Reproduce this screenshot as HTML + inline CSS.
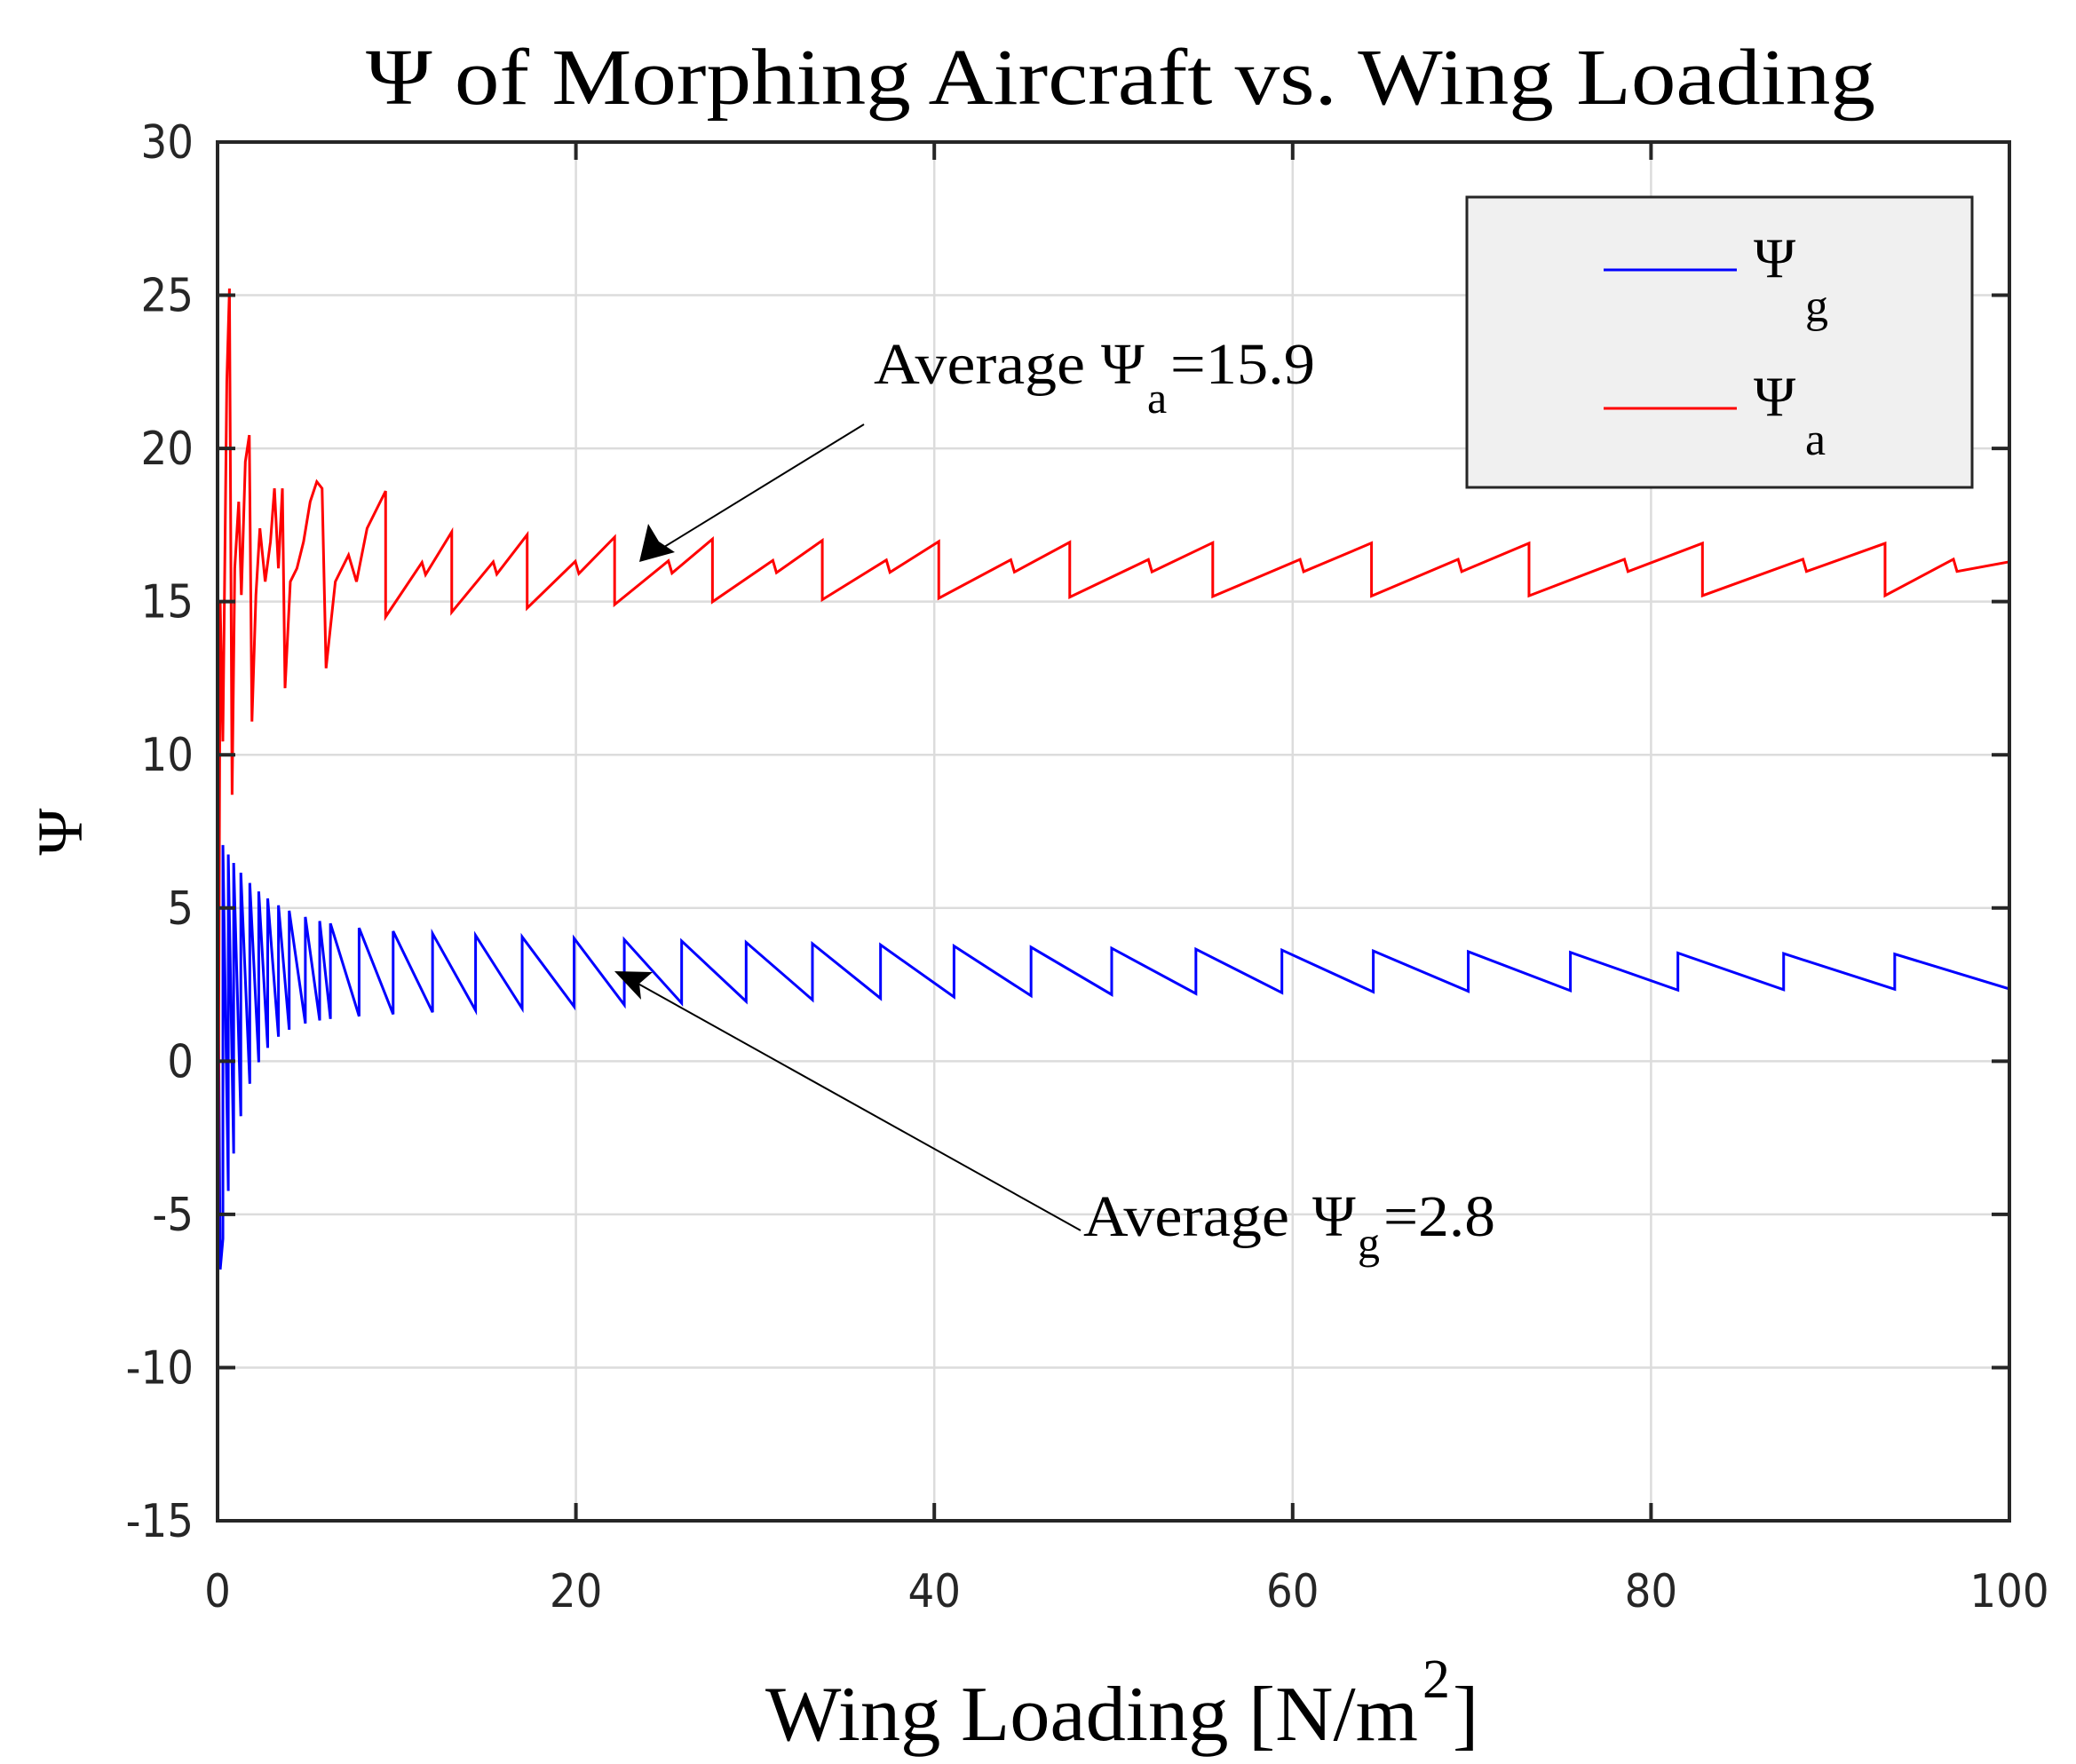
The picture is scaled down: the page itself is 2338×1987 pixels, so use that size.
<!DOCTYPE html>
<html><head><meta charset="utf-8"><style>
html,body{margin:0;padding:0;background:#fff;}
svg{display:block;}
</style></head><body>
<svg id="s" width="2338" height="1987" viewBox="0 0 2338 1987" xmlns="http://www.w3.org/2000/svg">
<rect width="2338" height="1987" fill="#fff"/>
<g id="grid" stroke="#dcdcdc" stroke-width="2.5"></g>
<g id="series" fill="none" stroke-width="3" stroke-linejoin="miter"></g>
<rect x="245" y="160" width="2018" height="1553" fill="none" stroke="#262626" stroke-width="4"/>
<g id="ticks" stroke="#262626" stroke-width="4"></g>
<g id="labels" font-family="'DejaVu Sans Condensed','DejaVu Sans','Liberation Sans',sans-serif" font-size="52" fill="#262626"></g>
<text x="1262" y="117" text-anchor="middle" font-family="'Liberation Serif',serif" font-size="90" fill="#000" textLength="1700" lengthAdjust="spacingAndGlyphs">Ψ of Morphing Aircraft vs. Wing Loading</text>
<text x="862" y="1960" font-family="'Liberation Serif',serif" font-size="88" fill="#000" textLength="735" lengthAdjust="spacingAndGlyphs">Wing Loading [N/m</text><text x="1602" y="1912" font-family="'Liberation Serif',serif" font-size="62" fill="#000">2</text><text x="1636" y="1960" font-family="'Liberation Serif',serif" font-size="88" fill="#000">]</text>
<text transform="translate(92,937) rotate(-90)" text-anchor="middle" font-family="'Liberation Serif',serif" font-size="72" fill="#000">Ψ</text>
<!-- legend -->
<rect x="1652" y="222" width="569" height="327" fill="#f0f0f0" stroke="#262626" stroke-width="3"/>
<line x1="1806" y1="304" x2="1956" y2="304" stroke="#0000ff" stroke-width="3"/>
<line x1="1806" y1="460" x2="1956" y2="460" stroke="#ff0000" stroke-width="3"/>
<g font-family="'Liberation Serif',serif" fill="#000">
<text x="1975" y="312" font-size="64">Ψ</text><text x="2033" y="362" font-size="52">g</text>
<text x="1975" y="468" font-size="64">Ψ</text><text x="2033" y="512" font-size="52">a</text>
</g>
<!-- annotations -->
<g font-family="'Liberation Serif',serif" fill="#000" font-size="66">
<text x="984" y="432" textLength="238" lengthAdjust="spacingAndGlyphs">Average</text>
<text x="1240" y="432">Ψ</text>
<text x="1292" y="465" font-size="50">a</text>
<text x="1318" y="432" textLength="163" lengthAdjust="spacingAndGlyphs">=15.9</text>
<text x="1220" y="1392" textLength="232" lengthAdjust="spacingAndGlyphs">Average</text>
<text x="1478" y="1392">Ψ</text>
<text x="1529" y="1417" font-size="50">g</text>
<text x="1558" y="1392" textLength="126" lengthAdjust="spacingAndGlyphs">=2.8</text>
</g>
<line x1="973" y1="478" x2="740" y2="621" stroke="#000" stroke-width="2"/>
<polygon points="720,633 730,590 742,610 760,622" fill="#000"/>
<line x1="1217" y1="1386" x2="715" y2="1106" stroke="#000" stroke-width="2"/>
<polygon points="692,1094 735,1095 720,1108 722,1126" fill="#000"/>
</svg>
<script>
var NS="http://www.w3.org/2000/svg";
function X(v){return 245+v*20.18;}
function Y(v){return 160+(30-v)*34.511;}
function el(p,t,a,txt){var e=document.createElementNS(NS,t);for(var k in a)e.setAttribute(k,a[k]);if(txt!==undefined)e.textContent=txt;document.getElementById(p).appendChild(e);}
for(var i=20;i<100;i+=20)el("grid","line",{x1:X(i),y1:160,x2:X(i),y2:1713});
for(var v=-10;v<30;v+=5)el("grid","line",{x1:245,y1:Y(v),x2:2263,y2:Y(v)});
for(var i=0;i<=100;i+=20){el("ticks","line",{x1:X(i),y1:1713,x2:X(i),y2:1693});el("ticks","line",{x1:X(i),y1:160,x2:X(i),y2:180});
 el("labels","text",{x:X(i),y:1810,"text-anchor":"middle"},String(i));}
for(var v=-15;v<=30;v+=5){el("ticks","line",{x1:245,y1:Y(v),x2:265,y2:Y(v)});el("ticks","line",{x1:2263,y1:Y(v),x2:2243,y2:Y(v)});
 el("labels","text",{x:218,y:Y(v)+18,"text-anchor":"end"},String(v));}
// blue
var b=[0.3,0.6,0.9,1.3,1.8,2.3,2.8,3.4,4.0,4.9,5.7,6.3,7.9,9.8,12.0,14.4,17.0,19.9,22.7,25.9,29.5,33.2,37.0,41.1,45.4,49.9,54.6,59.4,64.5,69.8,75.5,81.5,87.4,93.6,100];
function P(x){return 3.4+1.0*Math.exp(-x/40)+3*Math.exp(-x/2.5);}
function T(x){return 2.4-1.2*Math.exp(-x/30)-9*Math.exp(-x/1.2);}
var d="M"+X(0)+","+Y(6)+" L"+X(0.15)+","+Y(-6.8)+" L"+X(0.3)+","+Y(T(0.3));
for(var i=0;i<b.length;i++){var x=b[i];if(i>0)d+=" L"+X(x)+","+Y(T(x));d+=" L"+X(x)+","+Y(P(x));}
d+=" L"+X(100)+","+Y(2.3);
el("series","path",{d:d,stroke:"#0000ff"});
// red
var pts=[[163,1040],[165,455],[167,560],[170,290],[172,220],[174,600],[176,430],[179,380],[181,450],[184,350],[187,330],[189,545],[192,450],[195,400],[199,440],[203,410],[206,370],[209,430],[212,370],[214,520],[218,440],[223,430],[228,410],[233,380],[238,365],[242,370],[245,505],[252,440],[262,420],[268,440],[276,400],[290,372]];
var rd="";
for(var i=0;i<pts.length;i++){var xx=(pts[i][0]-163)/13.54,yy=(800-pts[i][1])/23;rd+=(i?" L":"M")+X(xx)+","+Y(yy);}
var dr=[9.38,13.07,17.28,22.16,27.62,33.75,40.25,47.56,55.54,64.40,73.19,82.87,93.06];
function D(x){return 15.2-1.3*Math.exp(-x/15);}
function Pk(x){return 16.9+0.9*Math.exp(-x/15);}
for(var i=0;i<dr.length;i++){var x=dr[i];rd+=" L"+X(x)+","+Y(Pk(x))+" L"+X(x)+","+Y(D(x));
 var nx=(i+1<dr.length)?dr[i+1]:100;var mid=x+(nx-x)*0.55;var vm=D(x)+(Pk(nx)-D(x))*0.55;
 rd+=" L"+X(mid)+","+Y(vm+0.25)+" L"+X(mid+0.2)+","+Y(vm-0.15);}
rd+=" L"+X(100)+","+Y(16.3);
el("series","path",{d:rd,stroke:"#ff0000"});
</script>
</body></html>
